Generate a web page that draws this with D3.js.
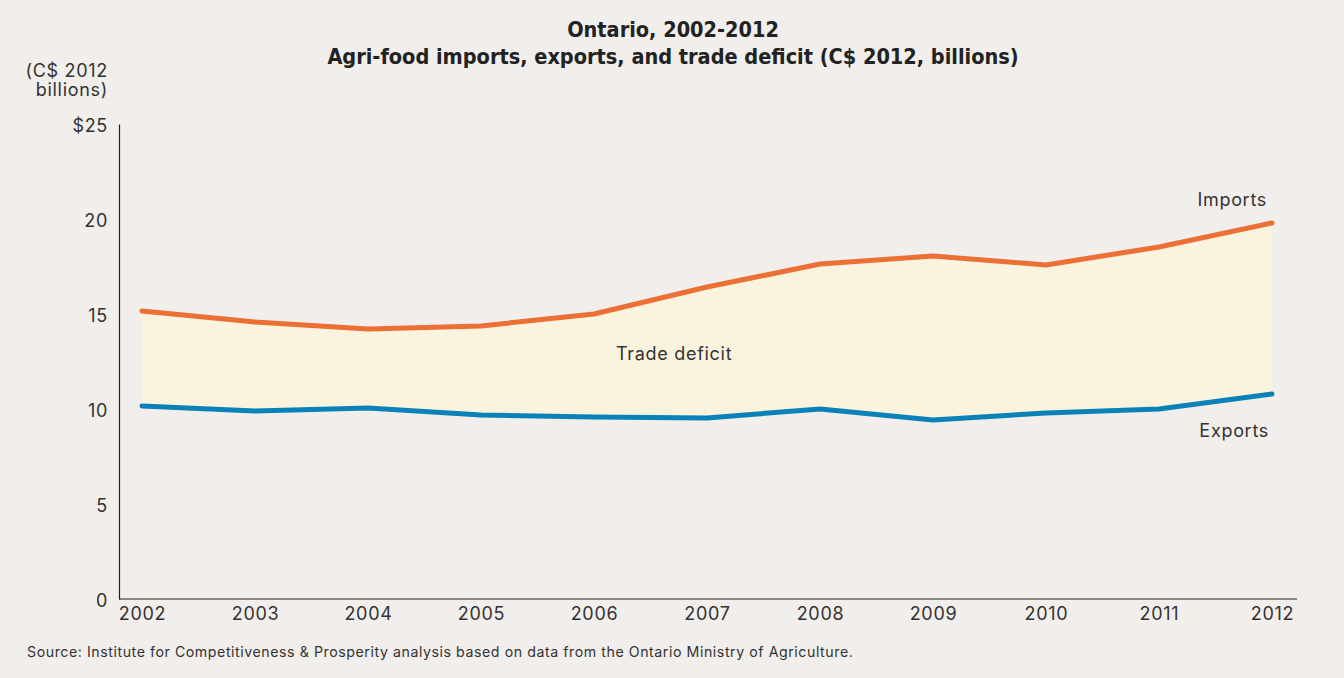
<!DOCTYPE html>
<html><head><meta charset="utf-8">
<script src="https://cdnjs.cloudflare.com/ajax/libs/d3/7.8.5/d3.min.js"></script>
<style>
html,body{margin:0;padding:0;background:#f1eeeb;}
svg{display:block;}
text{font-family:"Inter","Roboto",sans-serif;fill:#333;}
</style></head><body>
<script>
const years = [2002,2003,2004,2005,2006,2007,2008,2009,2010,2011,2012];
const imports = [15.16,14.58,14.21,14.37,15.0,16.42,17.63,18.05,17.58,18.53,19.79];
const exportsV = [10.16,9.89,10.05,9.68,9.58,9.53,10.0,9.42,9.79,10.0,10.79];
const yTicks = [0,5,10,15,20,25];
const yTickLabels = ["0","5","10","15","20","$25"];
const title1 = "Ontario, 2002-2012";
const title2 = "Agri-food imports, exports, and trade deficit (C$ 2012, billions)";
const source = "Source: Institute for Competitiveness & Prosperity analysis based on data from the Ontario Ministry of Agriculture.";

const W=1344,H=678;
const svg=d3.select("body").append("svg").attr("width",W).attr("height",H);
svg.append("rect").attr("width",W).attr("height",H).attr("fill","#f1eeeb");

const x=d3.scalePoint().domain(years).range([142,1272]);
const y=d3.scaleLinear().domain([0,25]).range([599,124]);

const LS = "0.7px";
// titles
const tf="'DejaVu Sans Condensed','DejaVu Sans',sans-serif";
svg.append("text").attr("x",673).attr("y",37).attr("text-anchor","middle")
  .attr("font-size",21.5).attr("font-weight",700).style("font-family",tf).style("fill","#222").text(title1);
svg.append("text").attr("x",673).attr("y",64).attr("text-anchor","middle")
  .attr("font-size",21.5).attr("font-weight",700).style("font-family",tf).style("fill","#222").text(title2);

// y unit label
svg.append("text").attr("x",108).attr("y",77).attr("text-anchor","end").attr("font-size",18).style("letter-spacing",LS).text("(C$ 2012");
svg.append("text").attr("x",108).attr("y",96).attr("text-anchor","end").attr("font-size",18).style("letter-spacing",LS).text("billions)");

// area
const area=d3.area().x((d,i)=>x(years[i])).y0((d,i)=>y(exportsV[i])).y1((d,i)=>y(imports[i]));
svg.append("path").datum(imports).attr("d",area).attr("fill","#faf4df");

// axes
const yAxis=d3.axisLeft(y).tickValues(yTicks).tickSize(0).tickPadding(11).tickFormat((d,i)=>yTickLabels[i]);
const gy=svg.append("g").attr("transform","translate(119,0)").call(yAxis);
gy.select(".domain").attr("stroke","#222").attr("stroke-width",1.2);
gy.selectAll("text").attr("font-size",18).attr("dy","0.4em").style("letter-spacing",LS).style("font-family","'Inter','Roboto',sans-serif").style("fill","#333");

const xAxis=d3.axisBottom(x).tickSize(0).tickPadding(8).tickFormat(d3.format("d"));
const gx=svg.append("g").attr("transform","translate(0,599)").call(xAxis);
gx.select(".domain").remove();
svg.append("line").attr("x1",119).attr("x2",1297).attr("y1",599).attr("y2",599).attr("stroke","#222").attr("stroke-width",1.2);
gx.selectAll("text").attr("font-size",18).attr("dy","0.71em").style("letter-spacing",LS).style("font-family","'Inter','Roboto',sans-serif").style("fill","#333");

// lines
const line=d3.line().x((d,i)=>x(years[i])).y(d=>y(d));
svg.append("path").datum(imports).attr("d",line).attr("fill","none").attr("stroke","#ec6f35").attr("stroke-width",5).attr("stroke-linecap","round").attr("stroke-linejoin","round");
svg.append("path").datum(exportsV).attr("d",line).attr("fill","none").attr("stroke","#0a82b8").attr("stroke-width",5).attr("stroke-linecap","round").attr("stroke-linejoin","round");

// labels
svg.append("text").attr("x",1267).attr("y",206).attr("text-anchor","end").attr("font-size",18).style("letter-spacing",LS).text("Imports");
svg.append("text").attr("x",1269).attr("y",437).attr("text-anchor","end").attr("font-size",18).style("letter-spacing",LS).text("Exports");
svg.append("text").attr("x",616).attr("y",360).attr("font-size",18).style("letter-spacing",LS).text("Trade deficit");

svg.append("text").attr("x",27).attr("y",657).attr("font-size",14.2).style("letter-spacing","0.55px").text(source);
</script>
</body></html>
